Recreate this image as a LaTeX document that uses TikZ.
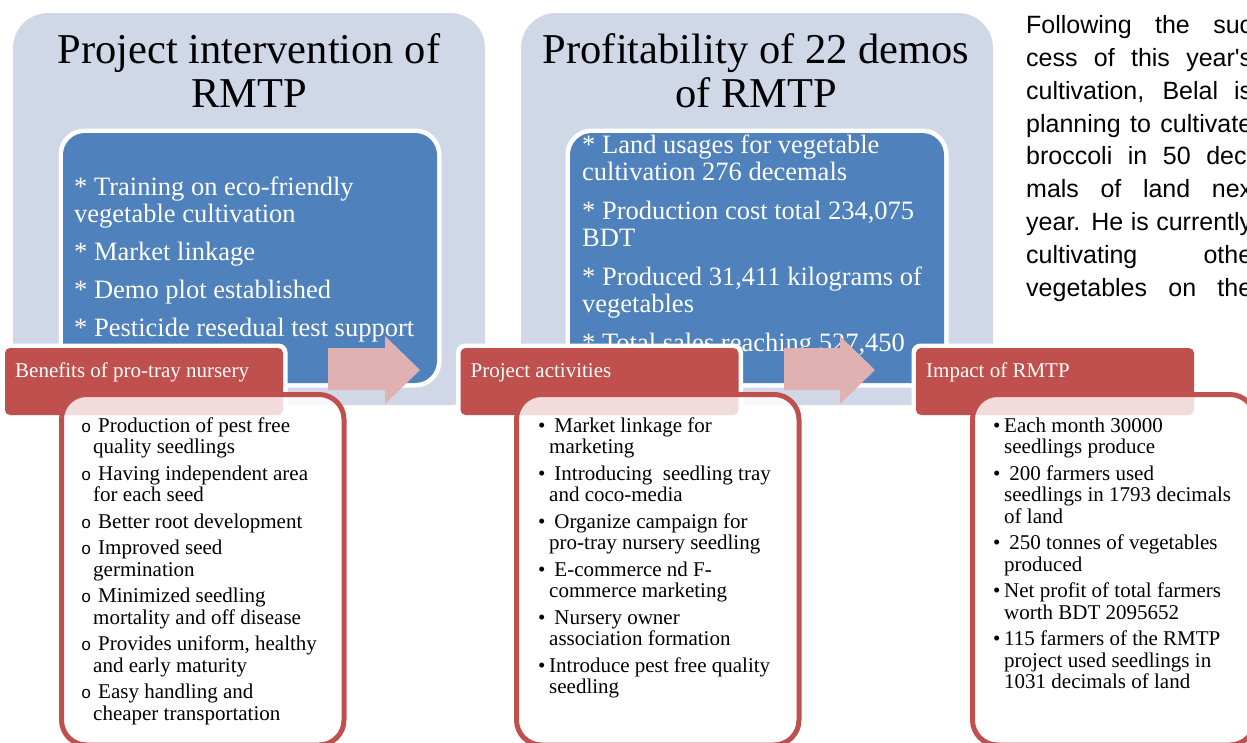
\documentclass[tikz,border=0pt]{standalone}
\usepackage{fontspec}
\setmainfont{Liberation Serif}
\newfontfamily\parafont{Liberation Sans}
\newfontfamily\bulletfont{Liberation Mono}

\definecolor{panelbg}{RGB}{208,216,232}
\definecolor{bluebox}{RGB}{79,129,189}
\definecolor{redtab}{RGB}{192,80,77}
\definecolor{arrowpink}{RGB}{223,177,176}

% list bullets
\newcommand{\obul}{\makebox[17pt][l]{\bulletfont\fontsize{17}{17}\selectfont o}}
\newcommand{\dbul}{\makebox[11pt][l]{•}}

\begin{document}
\begin{tikzpicture}[x=1pt,y=-1pt,
  panel/.style={fill=panelbg, rounded corners=35pt},
  blueouter/.style={fill=white, rounded corners=26pt},
  blueinner/.style={fill=bluebox, rounded corners=22pt},
  tabouter/.style={fill=white, rounded corners=9pt},
  tabinner/.style={fill=redtab, rounded corners=5pt},
  listbox/.style={draw=redtab, line width=5pt, fill=white, fill opacity=0.8, draw opacity=1, rounded corners=25pt},
  flowarrow/.style={fill=arrowpink},
  titletext/.style={inner sep=0pt, anchor=base, font=\fontsize{42.5}{44}\selectfont},
  bluetext/.style={inner sep=0pt, anchor=base west, text=white},
  tabtext/.style={inner sep=0pt, anchor=base west, text=white, font=\fontsize{21}{21.5}\selectfont},
  listtext/.style={inner sep=0pt, anchor=base west, font=\fontsize{21}{21.5}\selectfont},
  paratext/.style={inner sep=0pt, anchor=base west, font=\parafont\fontsize{25}{32.9}\selectfont},
]
\useasboundingbox (0,0) rectangle (1247,742);
\clip (0,0) rectangle (1247,742);

% upper panels
\path[panel] (13,13) rectangle (485,405);
\path[panel] (521,13) rectangle (993,405);

% inner blue boxes with white rims
\path[blueouter] (58.5,128.5) rectangle (441.5,387.5);
\path[blueinner] (63,133) rectangle (437,383);
\path[blueouter] (565.5,128.5) rectangle (948.5,387.5);
\path[blueinner] (570,133) rectangle (944,383);

% panel titles
\node[titletext] (t1a) at (249,63) {Project intervention of};
\node[titletext] (t1b) at (249,107) {RMTP};
\node[titletext] (t2a) at (756,63) {Profitability of 22 demos};
\node[titletext] (t2b) at (756,107) {of RMTP};

% blue box contents
\node[bluetext, font=\fontsize{26.5}{27}\selectfont] (b1) at (74,195) {\vtop{%
  \hbox{* Training on eco-friendly}
  \hbox{vegetable cultivation}
  \vskip11pt
  \hbox{* Market linkage}
  \vskip11pt
  \hbox{* Demo plot established}
  \vskip11pt
  \hbox{* Pesticide resedual test support}}};
\node[bluetext, font=\fontsize{26.5}{27.3}\selectfont] (b2) at (582,153) {\vtop{%
  \hbox{* Land usages for vegetable}
  \hbox{cultivation 276 decemals}
  \vskip11.5pt
  \hbox{* Production cost total 234,075}
  \hbox{BDT}
  \vskip11.5pt
  \hbox{* Produced 31,411 kilograms of}
  \hbox{vegetables}
  \vskip11.5pt
  \hbox{* Total sales reaching 527,450}}};

% side paragraph
\node[paratext] (para) at (1026,33.3) {\vtop{%
  \hbox{\makebox[226pt][s]{Following the suc}}
  \hbox{\makebox[226pt][s]{cess of this year's}}
  \hbox{\makebox[226pt][s]{cultivation, Belal is}}
  \hbox{\makebox[226pt][s]{planning to cultivate}}
  \hbox{\makebox[226pt][s]{broccoli in 50 deci}}
  \hbox{\makebox[226pt][s]{mals of land nex}}
  \hbox{\makebox[226pt][s]{year. He is currently}}
  \hbox{\makebox[226pt][s]{cultivating othe}}
  \hbox{\makebox[226pt][s]{vegetables on the}}}};

% red tabs with white rims
\path[tabouter] (0.5,343.5) rectangle (287.5,419.5);
\path[tabinner] (5,348) rectangle (283,415);
\path[tabouter] (456,343.5) rectangle (743,419.5);
\path[tabinner] (460.5,348) rectangle (738.5,415);
\path[tabouter] (911.5,343.5) rectangle (1198.5,419.5);
\path[tabinner] (916,348) rectangle (1194,415);
\node[tabtext] (h1) at (15,377) {Benefits of pro-tray nursery};
\node[tabtext] (h2) at (470.5,377) {Project activities};
\node[tabtext] (h3) at (926,377) {Impact of RMTP};

% lower list boxes
\path[listbox] (61.5,394.5) rectangle (344,745);
\path[listbox] (516.5,394.5) rectangle (799,745);
\path[listbox] (972.5,394.5) rectangle (1255,745);

\node[listtext] (l1) at (81,432) {\vtop{%
  \hbox{\obul Production of pest free}
  \hbox{\hspace*{12pt}quality seedlings}
  \vskip5pt
  \hbox{\obul Having independent area}
  \hbox{\hspace*{12pt}for each seed}
  \vskip5pt
  \hbox{\obul Better root development}
  \vskip5pt
  \hbox{\obul Improved seed}
  \hbox{\hspace*{12pt}germination}
  \vskip5pt
  \hbox{\obul Minimized seedling}
  \hbox{\hspace*{12pt}mortality and off disease}
  \vskip5pt
  \hbox{\obul Provides uniform, healthy}
  \hbox{\hspace*{12pt}and early maturity}
  \vskip5pt
  \hbox{\obul Easy handling and}
  \hbox{\hspace*{12pt}cheaper transportation}}};

\node[listtext] (l2) at (538,432) {\vtop{%
  \hbox{\dbul\ Market linkage for}
  \hbox{\hspace*{11pt}marketing}
  \vskip5pt
  \hbox{\dbul\ Introducing\ \ seedling tray}
  \hbox{\hspace*{11pt}and coco-media}
  \vskip5pt
  \hbox{\dbul\ Organize campaign for}
  \hbox{\hspace*{11pt}pro-tray nursery seedling}
  \vskip5pt
  \hbox{\dbul\ E-commerce nd F-}
  \hbox{\hspace*{11pt}commerce marketing}
  \vskip5pt
  \hbox{\dbul\ Nursery owner}
  \hbox{\hspace*{11pt}association formation}
  \vskip5pt
  \hbox{\dbul Introduce pest free quality}
  \hbox{\hspace*{11pt}seedling}}};

\node[listtext] (l3) at (993,432) {\vtop{%
  \hbox{\dbul Each month 30000}
  \hbox{\hspace*{11pt}seedlings produce}
  \vskip5pt
  \hbox{\dbul\ 200 farmers used}
  \hbox{\hspace*{11pt}seedlings in 1793 decimals}
  \hbox{\hspace*{11pt}of land}
  \vskip5pt
  \hbox{\dbul\ 250 tonnes of vegetables}
  \hbox{\hspace*{11pt}produced}
  \vskip5pt
  \hbox{\dbul Net profit of total farmers}
  \hbox{\hspace*{11pt}worth BDT 2095652}
  \vskip5pt
  \hbox{\dbul 115 farmers of the RMTP}
  \hbox{\hspace*{11pt}project used seedlings in}
  \hbox{\hspace*{11pt}1031 decimals of land}}};

% flow arrows between the stages
\path[flowarrow] (328,348) -- (385,348) -- (385,336) -- (420,370) -- (385,404) -- (385,390) -- (328,390) -- cycle;
\path[flowarrow] (784,348) -- (840,348) -- (840,336) -- (875,370) -- (840,404) -- (840,390) -- (784,390) -- cycle;
\end{tikzpicture}
\end{document}
